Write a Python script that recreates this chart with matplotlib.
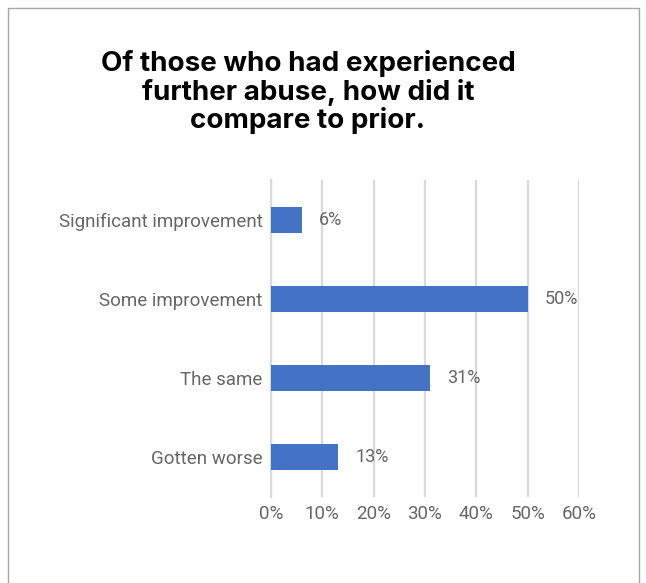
import matplotlib.pyplot as plt
from matplotlib.patches import Rectangle

categories = ['Significant improvement', 'Some improvement', 'The same', 'Gotten worse']
values = [6, 50, 31, 13]
xticks = [0, 10, 20, 30, 40, 50, 60]

bar_color = '#4472C4'
text_color = '#666666'
grid_color = '#D9D9D9'

plt.rcParams['font.family'] = ['Roboto', 'DejaVu Sans']

fig = plt.figure(figsize=(6.46, 5.83), dpi=100)
ax = fig.add_axes([271 / 646, 1 - 497 / 583, 308 / 646, 317 / 583])

y = list(range(len(categories)))
ax.barh(y, values, height=0.33, color=bar_color, zorder=3)
for yi, v in zip(y, values):
  ax.text(v + 3.4, yi, f'{v}%', va='center', ha='left',
          fontsize=13, color=text_color)

ax.set_xlim(0, 60)
ax.set_ylim(len(categories) - 0.5, -0.5)
ax.set_yticks(y)
ax.set_yticklabels(categories, fontsize=13.5, color=text_color)
ax.set_xticks(xticks)
ax.set_xticklabels([f'{t}%' for t in xticks], fontsize=13.5, color=text_color)
ax.tick_params(axis='both', length=0)
ax.tick_params(axis='x', pad=6)
ax.tick_params(axis='y', pad=6)

ax.grid(axis='x', color=grid_color, linewidth=1.6, zorder=0)
for side in ['top', 'right', 'bottom']:
  ax.spines[side].set_visible(False)
ax.spines['left'].set_color(grid_color)
ax.spines['left'].set_linewidth(1.6)

fig.text(308 / 646, 1 - 92 / 583,
         'Of those who had experienced\nfurther abuse, how did it\ncompare to prior.',
         ha='center', va='center', fontsize=20, fontweight='bold',
         family=['Inter', 'DejaVu Sans'], linespacing=1.06, color='black')

# outer frame around the chart area
fig.patches.append(Rectangle((8 / 646, -0.02), 631 / 646, 1 - 8 / 583 + 0.02,
                             transform=fig.transFigure, fill=False,
                             edgecolor='#A6A6A6', linewidth=1.0))

fig.savefig('out.png', dpi=100)
